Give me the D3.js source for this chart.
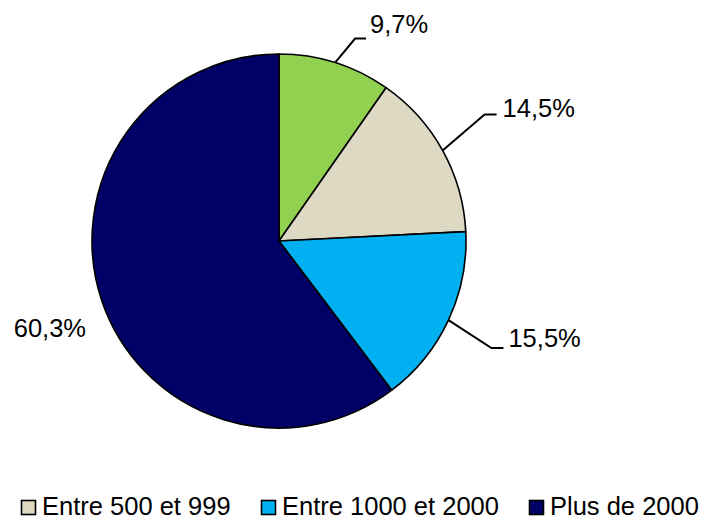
<!DOCTYPE html>
<html>
<head>
<meta charset="utf-8">
<script src="https://cdn.jsdelivr.net/npm/d3@7"></script>
<style>
  body { margin: 0; background: #fff; }
  svg { font-family: "Liberation Sans", Arial, sans-serif; }
</style>
</head>
<body>
<svg width="705" height="520"></svg>
<script>
// data
var categories = ["Moins de 500", "Entre 500 et 999", "Entre 1000 et 2000", "Plus de 2000"];
var values = [9.7, 14.5, 15.5, 60.3];
var valueLabels = ["9,7%", "14,5%", "15,5%", "60,3%"];
var legendKeys = ["Entre 500 et 999", "Entre 1000 et 2000", "Plus de 2000"];

var colors = ["#92D050", "#DDD9C3", "#00B0F0", "#000066"];

var svgWidth = 705, svgHeight = 520;
var cx = 279, cy = 241, radius = 187;

// label placement (offsets from the slice's outer mid point)
var labelLayout = [
  {line: true,  elbow: [20, -24], len: 11, text: [35, -30]},
  {line: true,  elbow: [42, -36], len: 12, text: [60, -33]},
  {line: true,  elbow: [43, 28],  len: 12, text: [60, 27]},
  {line: false, text: [-88, 37]}
];

var svg = d3.select("svg")
    .attr("width", svgWidth)
    .attr("height", svgHeight);

var color = d3.scaleOrdinal().domain(categories).range(colors);

var pie = d3.pie().sort(null).value(function(d) { return d; });
var arcs = pie(values);

var arc = d3.arc().innerRadius(0).outerRadius(radius);

var g = svg.append("g").attr("transform", "translate(" + cx + "," + cy + ")");

g.selectAll("path")
    .data(arcs)
    .enter()
    .append("path")
    .attr("d", arc)
    .attr("fill", function(d, i) { return color(categories[i]); })
    .attr("stroke", "#000")
    .attr("stroke-width", 1.6)
    .attr("stroke-linejoin", "round");

// labels
arcs.forEach(function(d, i) {
    var mid = (d.startAngle + d.endAngle) / 2;
    var px = radius * Math.sin(mid), py = -radius * Math.cos(mid);
    var L = labelLayout[i];
    if (L.line) {
        var ex = px + L.elbow[0], ey = py + L.elbow[1];
        g.append("polyline")
            .attr("points", [[px, py], [ex, ey], [ex + L.len, ey]].join(" "))
            .attr("fill", "none")
            .attr("stroke", "#000")
            .attr("stroke-width", 2);
    }
    g.append("text")
        .attr("x", px + L.text[0])
        .attr("y", py + L.text[1])
        .attr("font-size", 25.5)
        .attr("fill", "#000")
        .text(valueLabels[i]);
});

// legend
var legendX = [21, 261, 529];
var legend = svg.selectAll(".legend")
    .data(legendKeys)
    .enter()
    .append("g")
    .attr("class", "legend")
    .attr("transform", function(d, i) { return "translate(" + legendX[i] + ",500)"; });

legend.append("rect")
    .attr("x", 0.5).attr("y", 0.5)
    .attr("width", 14).attr("height", 14)
    .attr("fill", function(d) { return color(d); })
    .attr("stroke", "#000")
    .attr("stroke-width", 1.6);

legend.append("text")
    .attr("x", 21)
    .attr("y", 15)
    .attr("font-size", 25.5)
    .attr("fill", "#000")
    .text(function(d) { return d; });
</script>
</body>
</html>
